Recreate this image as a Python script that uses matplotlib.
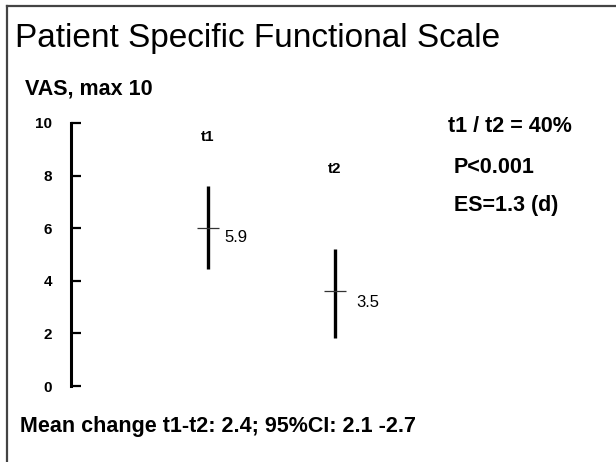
import matplotlib
matplotlib.use('Agg')
import matplotlib.pyplot as plt
from matplotlib.lines import Line2D

plt.rcParams['font.family'] = ['Liberation Sans', 'DejaVu Sans']

# data
times = ['t1', 't2']
means = [6.0, 3.6]
mean_labels = ['5.9', '3.5']
ci_low = [4.45, 1.83]
ci_high = [7.6, 5.2]
yticks = [0, 2, 4, 6, 8, 10]

W, H = 616, 462
fig = plt.figure(figsize=(W / 100, H / 100), dpi=100)
fig.patch.set_facecolor('white')

# slide frame (left and top edge only visible)
fx = 7 / W
fy = 1 - 6 / H
fig.add_artist(Line2D([fx, fx], [0, fy], transform=fig.transFigure, color='#444444', lw=1.6))
fig.add_artist(Line2D([fx, 1], [fy, fy], transform=fig.transFigure, color='#444444', lw=1.6))

ax = fig.add_axes([71 / W, 76 / H, 329 / W, 263 / H])
ax.set_ylim(0, 10)
ax.set_xlim(-0.079, 2.512)
for s in ['top', 'right', 'bottom']:
    ax.spines[s].set_visible(False)
ax.spines['left'].set_linewidth(2.2)
ax.set_xticks([])
ax.set_yticks(yticks)
ax.set_yticklabels([str(t) for t in yticks], fontweight='bold', fontsize=11)
ax.tick_params(axis='y', direction='in', length=7.2, width=1.6, pad=13.5)
ax.patch.set_visible(False)

xs = list(range(1, len(times) + 1))
ax.vlines(xs, ci_low, ci_high, color='black', lw=2.4)
ax.plot(xs, means, ls='none', marker='_', markersize=16, markeredgewidth=0.9, color='#333333')

# time labels above the bars and mean value labels
ax.text(xs[0], 9.47, times[0], ha='center', va='center', fontweight='bold', fontsize=11)
ax.text(xs[1], 8.25, times[1], ha='center', va='center', fontweight='bold', fontsize=11)
ax.text(xs[0] + 0.126, means[0] - 0.37, mean_labels[0], ha='left', va='center', fontsize=12)
ax.text(xs[1] + 0.17, means[1] - 0.44, mean_labels[1], ha='left', va='center', fontsize=12)

fig.text(15 / W, 1 - 47 / H, 'Patient Specific Functional Scale', fontsize=24, va='baseline')
fig.text(25 / W, 1 - 95 / H, 'VAS, max 10', fontsize=15.5, fontweight='bold', va='baseline')
fig.text(448 / W, 1 - 132 / H, 't1 / t2 = 40%', fontsize=15.5, fontweight='bold', va='baseline')
fig.text(454 / W, 1 - 173 / H, 'P<0.001', fontsize=15.5, fontweight='bold', va='baseline')
fig.text(454 / W, 1 - 211 / H, 'ES=1.3 (d)', fontsize=15.5, fontweight='bold', va='baseline')
fig.text(20 / W, 1 - 432 / H, 'Mean change t1-t2: 2.4; 95%CI: 2.1 -2.7', fontsize=15.5,
         fontweight='bold', va='baseline')

fig.savefig('out.png', dpi=100)
